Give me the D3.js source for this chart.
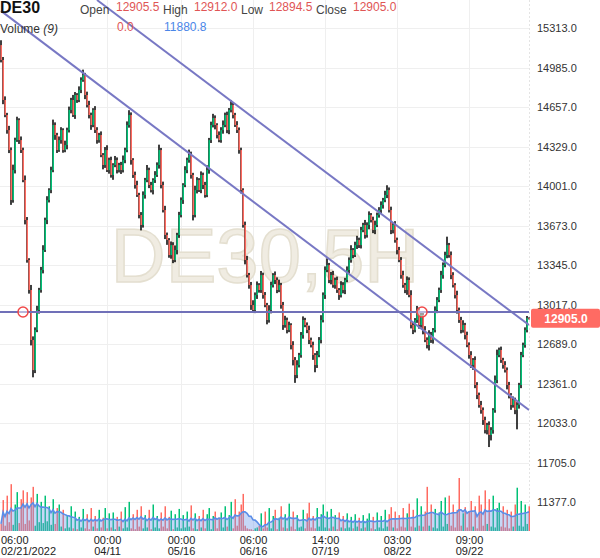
<!DOCTYPE html>
<html><head><meta charset="utf-8">
<script src="https://cdn.jsdelivr.net/npm/d3@7"></script>
<style>html,body{margin:0;padding:0;background:#fff;} svg{display:block;font-family:"Liberation Sans",Arial,sans-serif;}</style>
</head><body><svg id="c" width="600" height="558"></svg>
<script>
// ---- data (DE30, 5H) ----
const firstOpen = 15173;
const closes = [
15049,14717,14592,14467,14301,13886,14135,14384,14550,14384,
14301,14052,13720,13388,13139,12724,12474,12807,12973,13139,
13305,13471,13720,13886,13969,14135,14509,14426,14301,14384,
14467,14301,14343,14467,14634,14717,14592,14758,14717,14800,
14883,14924,14758,14675,14592,14509,14634,14467,14384,14426,
14260,14177,14301,14135,14218,14094,14177,14218,14135,14177,
14135,14218,14301,14509,14592,14218,14094,14011,13928,13762,
13679,13928,14052,14135,14011,13969,14052,14094,14177,14301,
14011,13803,13596,13554,13429,13512,13388,13471,13596,13762,
13886,14011,14135,14218,14260,14094,13762,13969,14052,13969,
14094,14011,13928,14135,14384,14509,14567,14509,14426,14384,
14467,14509,14592,14467,14634,14675,14592,14509,14467,14301,
13969,13679,13388,13263,13180,13014,12973,13097,13180,13139,
13263,13097,13014,12890,12973,13180,13263,13222,13139,13180,
13014,12848,12890,12807,12848,12682,12558,12433,12516,12599,
12765,12890,12848,12807,12724,12682,12599,12516,12599,12724,
12890,13097,13305,13346,13222,13263,13180,13222,13139,13097,
13180,13139,13222,13305,13388,13471,13429,13512,13554,13512,
13637,13679,13596,13679,13762,13720,13637,13679,13762,13803,
13845,13886,13928,13969,13803,13637,13679,13554,13471,13388,
13263,13180,13139,13222,13097,12848,12807,12890,12973,12848,
12931,12807,12724,12682,12765,12724,12807,12973,13056,13139,
13263,13346,13429,13512,13429,13263,13180,13097,12973,12890,
12807,12848,12765,12682,12599,12516,12558,12350,12267,12184,
12142,12059,11976,12018,11935,11976,12142,12391,12599,12641,
12558,12516,12474,12350,12267,12184,12225,12142,12184,12350,
12599,12682,12807,12905.5,12905
];
const hiExt = [
40,25,30,18,35,22,45,20,28,15, 30,20,38,25,15,42,30,22,35,18,
26,40,20,32,15,28,45,22,18,30, 24,15,36,20,28,18,42,25,16,30,
22,45,18,28,35,20,15,32,24,18, 30,16,25,40,20,28,15,34,22,18,
26,38,20,30,40,22,16,28,35,18, 24,30,18,42,20,26,15,32,22,45,
18,28,35,20,16,30,24,38,18,26, 22,15,32,20,45,28,18,36,24,16,
30,20,26,40,18,28,35,22,15,30, 24,38,20,28,16,42,25,18,32,22,
20,15,28,35,18,26,40,22,30,16, 34,20,25,18,40,28,16,30,22,45,
18,26,35,20,28,15,32,24,40,18, 25,30,18,22,36,20,28,16,34,24,
40,22,30,55,18,26,35,20,28,16, 32,24,18,30,22,40,16,28,35,20,
26,18,42,22,30,16,28,36,20,24, 30,18,35,40,22,28,16,32,20,26,
24,36,18,30,22,40,26,16,34,20, 28,18,32,22,40,26,16,30,24,20,
35,22,28,70,18,30,24,16,36,20, 26,40,18,28,22,32,16,30,24,20,
34,22,28,18,30,24,16,38,45,20, 28,18,32,22,26,16,30,20,24,18,
26,20,22,18,6.5
];
const loExt = [
20,35,18,30,25,40,22,28,15,32, 24,18,36,22,30,45,60,25,18,30,
22,28,16,34,20,26,18,40,24,15, 30,22,18,36,20,28,16,32,24,18,
26,15,34,20,28,40,18,24,30,22, 18,36,24,16,30,22,40,18,28,20,
32,20,26,18,22,38,24,30,16,28, 45,22,30,18,26,20,36,24,16,30,
28,20,34,40,22,30,26,18,36,24, 20,32,18,26,22,30,45,20,28,16,
26,34,22,18,30,24,20,36,28,18, 22,30,18,26,34,20,28,16,24,30,
28,22,36,20,30,40,18,26,32,22, 24,30,18,36,22,28,20,34,26,18,
30,40,22,28,18,36,45,65,26,20, 22,30,18,26,34,20,40,60,24,18,
28,20,32,18,26,36,22,30,24,40, 20,28,34,18,30,22,26,16,32,24,
28,18,30,22,36,20,26,34,18,22, 24,30,18,26,20,34,28,22,36,18,
30,22,26,40,18,28,34,20,24,30, 22,36,18,28,45,24,30,20,26,18,
24,30,18,26,22,34,20,28,30,24, 28,22,36,18,30,24,40,26,34,22,
30,40,28,36,100,45,30,22,26,18, 24,30,20,36,28,40,22,34,160,30,
26,18,22,20,10.5
];
const volK = [
8,35,6,40,10,53,7,30,44,9, 36,46,8,44,12,38,50,6,42,10,
33,9,40,11,28,7,36,8,26,30, 5,24,3,18,4,28,3,22,2,16,
4,25,3,19,2,26,5,17,3,24, 4,15,26,3,20,4,21,2,16,5,
22,3,27,4,33,3,19,2,24,5, 28,3,18,4,24,2,30,4,17,3,
21,5,28,3,16,23,2,19,4,25, 3,18,4,22,5,29,3,20,2,17,
4,24,3,19,26,2,17,22,3,15, 21,4,28,5,18,33,3,36,6,22,
30,42,6,3,2,2,1,3,4,6, 20,3,22,4,26,3,17,24,2,15,
28,4,19,3,31,5,22,2,18,4, 5,24,3,20,32,4,17,3,26,5,
19,30,4,22,3,25,5,18,2,21, 4,17,3,20,4,16,3,19,5,15,
3,18,4,14,20,3,16,2,21,4, 17,3,24,5,19,27,4,22,3,18,
5,26,4,20,31,5,24,4,37,6, 28,5,22,50,6,30,4,25,3,21,
34,5,38,8,40,6,30,4,24,60, 6,20,27,4,22,34,5,28,3,40,
30,6,46,8,36,5,40,4,26,32, 5,28,4,24,3,22,5,30,49,6,
34,5,30,8,28
];
const priceTicks = [15313,14985,14657,14329,14001,13673,13345,13017,12689,12361,12033,11705,11377];
const timeIdx  = [0,53,90,126,162,198,234];
const timeTop  = ["06:00","00:00","00:00","06:00","14:00","03:00","09:00"];
const timeBot  = ["02/21/2022","04/11","05/16","06/16","07/19","08/22","09/22"];
const trendUpper = [{i:48,p:15547},{i:264,p:12848}];
const trendLower = [{i:0,p:15457},{i:264,p:12142}];
const levelPrice = 12956;
const levelMarks = [11,210.5];
const lastPrice = 12905.0;
const legendOHLC = [["Open","12905.5"],["High","12912.0"],["Low","12894.5"],["Close","12905.0"]];
const legendVol = ["0.0","11880.8"];

// ---- drawing ----
const svg = d3.select("#c");
const PR = 529, VB = 531;
const n = closes.length;
const x = d3.scaleLinear().domain([0, n-1]).range([0, 528]);
const y = d3.scaleLinear().domain([11377, 15313]).range([502.2, 28.2]);
const yv = d3.scaleLinear().domain([0, 60]).range([VB, 478]);
const GREEN = "#00c176", RED = "#ff6a60";

const opens = closes.map((c,i)=> i===0 ? firstOpen : closes[i-1]);
const data = closes.map((c,i)=>({i, o:opens[i], c, h:Math.max(opens[i],c)+hiExt[i], l:Math.min(opens[i],c)-loExt[i], v:volK[i]}));
data.forEach((d,i)=>{ d.ma = d3.mean(volK.slice(Math.max(0,i-8), i+1)); });

svg.append("rect").attr("width",600).attr("height",558).attr("fill","#fff");
svg.append("defs").append("clipPath").attr("id","pc").append("rect").attr("x",0).attr("y",0).attr("width",PR).attr("height",VB);

// grid
svg.append("g").selectAll("line").data(priceTicks).join("line")
  .attr("x1",0).attr("x2",PR).attr("y1",d=>Math.round(y(d))+0.5).attr("y2",d=>Math.round(y(d))+0.5)
  .attr("stroke","#efefef");
svg.append("g").selectAll("line").data(timeIdx.slice(1)).join("line")
  .attr("x1",d=>Math.round(x(d))+1.5).attr("x2",d=>Math.round(x(d))+1.5).attr("y1",0).attr("y2",VB)
  .attr("stroke","#efefef");
svg.append("line").attr("x1",PR+0.5).attr("x2",PR+0.5).attr("y1",0).attr("y2",VB)
  .attr("stroke","#e4e4e4").attr("stroke-dasharray","2,2");

// watermark
svg.append("text").attr("x",265).attr("y",282).attr("text-anchor","middle")
  .attr("font-size",76).attr("fill","#f0ece2").attr("stroke","#e4dfd0").attr("stroke-width",1.5)
  .text("DE30,5H");

// volume
const gv = svg.append("g");
gv.selectAll("rect").data(data).join("rect")
  .attr("x",d=>x(d.i)+0.5).attr("width",1.5)
  .attr("y",d=>yv(d.v)).attr("height",d=>VB-yv(d.v))
  .attr("fill",d=>d.c>=d.o?GREEN:RED);
gv.append("path").datum(data)
  .attr("d",d3.area().x(d=>x(d.i)+1).y0(VB).y1(d=>yv(d.ma)))
  .attr("fill","rgba(120,160,235,0.42)");
gv.append("path").datum(data)
  .attr("d",d3.line().x(d=>x(d.i)+1).y(d=>yv(d.ma)))
  .attr("fill","none").attr("stroke","#5a8de8").attr("stroke-width",1.6);

// candles: 2px black wick behind a 2px coloured body
const gc = svg.append("g");
gc.selectAll("rect.w").data(data).join("rect").attr("class","w")
  .attr("x",d=>x(d.i)+0.25).attr("width",1.5)
  .attr("y",d=>y(d.h)).attr("height",d=>y(d.l)-y(d.h))
  .attr("fill","#000");
gc.selectAll("rect.b").data(data).join("rect").attr("class","b")
  .attr("x",d=>x(d.i)+0.5).attr("width",1.5)
  .attr("y",d=>y(Math.max(d.o,d.c))).attr("height",d=>Math.max(1,Math.abs(y(d.o)-y(d.c))))
  .attr("fill",d=>d.c>=d.o?GREEN:RED);

// drawings
const gd = svg.append("g").attr("clip-path","url(#pc)");
[trendUpper, trendLower].forEach(t=>{
  gd.append("line").attr("x1",x(t[0].i)+1).attr("y1",y(t[0].p)).attr("x2",x(t[1].i)+1).attr("y2",y(t[1].p))
    .attr("stroke","#7878c4").attr("stroke-width",2);
});
gd.append("line").attr("x1",0).attr("x2",PR).attr("y1",y(levelPrice)).attr("y2",y(levelPrice))
  .attr("stroke","#7070b8").attr("stroke-width",2);
gd.selectAll("circle").data(levelMarks).join("circle")
  .attr("cx",d=>x(d)+1).attr("cy",y(levelPrice)).attr("r",5)
  .attr("fill","rgba(255,255,255,0.5)").attr("stroke","#f04848").attr("stroke-width",1.5);

// right axis
svg.append("g").selectAll("text").data(priceTicks).join("text")
  .attr("x",537).attr("y",d=>y(d)).attr("dy","0.35em")
  .attr("font-size",11).attr("fill","#333").text(d=>d.toFixed(1));
svg.append("rect").attr("x",531).attr("y",y(lastPrice)-9.5).attr("width",69).attr("height",19).attr("rx",2)
  .attr("fill","#ff6b63");
svg.append("text").attr("x",566).attr("y",y(lastPrice)).attr("dy","0.36em").attr("text-anchor","middle")
  .attr("font-size",12).attr("font-weight","bold").attr("fill","#fff").text(lastPrice.toFixed(1));

// time axis
const gt = svg.append("g").attr("font-size",11).attr("fill","#222");
timeIdx.forEach((t,k)=>{
  const anchor = k===0 ? "start" : "middle";
  const xx = k===0 ? 1 : Math.round(x(t))+1.5;
  gt.append("text").attr("x",xx).attr("y",544).attr("text-anchor",anchor).text(timeTop[k]);
  gt.append("text").attr("x",xx).attr("y",555).attr("text-anchor",anchor).text(timeBot[k]);
});

// legend
const gl = svg.append("g").attr("font-size",12);
gl.append("text").attr("x",0).attr("y",13).attr("font-size",16).attr("font-weight","bold").attr("fill","#111").text("DE30");
const lx = [80,163,241,316], vx = [116,194,269,353];
legendOHLC.forEach((d,k)=>{
  gl.append("text").attr("x",lx[k]).attr("y",14).attr("fill","#444").text(d[0]);
  gl.append("text").attr("x",vx[k]).attr("y",11).attr("fill","#e05555").text(d[1]);
});
const vt = gl.append("text").attr("x",0).attr("y",33).attr("fill","#333");
vt.append("tspan").text("Volume ");
vt.append("tspan").attr("font-style","italic").text("(9)");
gl.append("text").attr("x",117).attr("y",31).attr("fill","#e05555").text(legendVol[0]);
gl.append("text").attr("x",164).attr("y",31).attr("fill","#4a86e8").text(legendVol[1]);
</script></body></html>
